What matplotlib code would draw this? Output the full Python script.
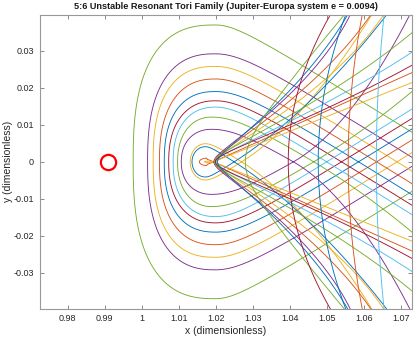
import numpy as np
import matplotlib
matplotlib.use("Agg")
import matplotlib.pyplot as plt

plt.rcParams['font.family'] = ['Liberation Sans', 'DejaVu Sans']

C = {'blue': '#0072BD', 'orange': '#D95319', 'yellow': '#EDB120', 'purple': '#7E2F8E',
     'green': '#77AC30', 'lightblue': '#4DBEEE', 'darkred': '#A2142F'}

# ---- loop members of the family (outermost -> innermost) ----
loop_colors = ['green', 'purple', 'yellow', 'orange', 'blue', 'darkred', 'lightblue',
               'green', 'purple', 'yellow', 'blue', 'orange', 'yellow']
loop_left = [0.9977, 1.0016, 1.0031, 1.0048, 1.0061, 1.0073, 1.0085, 1.0097, 1.0107,
             1.0131, 1.0136, 1.0156, 1.0170]
loop_peak_x = [1.020, 1.020, 1.020, 1.020, 1.020, 1.020, 1.020, 1.019, 1.019,
               1.0172, 1.0172, 1.0176, 1.0182]
loop_height = [0.0370, 0.0292, 0.0258, 0.0224, 0.0190, 0.0165, 0.0148, 0.0121, 0.0088,
               0.0049, 0.0041, 0.0010, 0.0002]
loop_node = [1.086, 1.075, 1.069, 1.0635, 1.0586, 1.054, 1.050, 1.0465, 1.041,
             1.027, 1.025, 1.0194, 1.0192]
loop_slope = [0.62, 0.63, 0.63, 0.63, 0.63, 0.63, 0.63, 0.63, 0.63,
              0.65, 0.65, 0.45, 0.40]
loop_bend = [0.0, 0.0, 0.0, 0.0, 0.0, 0.0, 0.0, 4.0, 21.0, 13.8, 7.7, 0.0, 0.0]
loop_shape = [2.6, 2.5, 2.5, 2.4, 2.4, 2.3, 2.3, 2.2, 2.2, 2.0, 2.0, 2.0, 2.0]

# ---- fan branches through the hyperbolic tip ----
fan_colors = ['purple', 'orange', 'yellow', 'green', 'lightblue', 'darkred', 'blue']
fan_vertex = [1.0195, 1.0198, 1.0201, 1.0197, 1.0203, 1.0199, 1.0205]
fan_a = [1.49, 1.57, 1.77, 2.05, 2.30, 2.60, 1.30]
fan_k = [-12.5, -11.1, -13.9, -12.0, -13.0, -15.0, -9.0]

# ---- outer arcs ----
arc_colors = ['green', 'darkred', 'blue', 'orange', 'lightblue']
arc_vertex = [1.028, 1.0396, 1.0477, 1.0558, 1.0634]
arc_a = [0.85, 0.0, 0.0, 0.0, 0.0]
arc_k = [0.0, 7.2, 4.7, 2.4, 1.33]

body_x = [0.9908]
body_y = [0.0]

xticks = [0.98, 0.99, 1.00, 1.01, 1.02, 1.03, 1.04, 1.05, 1.06, 1.07]
xtick_labels = ['0.98', '0.99', '1', '1.01', '1.02', '1.03', '1.04', '1.05', '1.06', '1.07']
yticks = [-0.03, -0.02, -0.01, 0.0, 0.01, 0.02, 0.03]
ytick_labels = ['-0.03', '-0.02', '-0.01', '0', '0.01', '0.02', '0.03']
xlim = (0.9724, 1.0730)
ylim = (-0.0397, 0.0397)


def loop_xy(a, xp, H, c, m, q, p, xmax=1.11):
    th = np.linspace(0, np.pi / 2, 200)
    x1 = xp - (xp - a) * np.cos(th) ** (2 / p)
    y1 = H * np.sin(th) ** (2 / p)
    d = c - xp
    r = (m * d * d - H * H / m) / (2 * H)
    x2 = np.linspace(xp, xmax, 800)[1:]
    y2 = H - m * (np.sqrt((x2 - xp) ** 2 + r ** 2) - r) - q * np.clip(x2 - c, 0, None) ** 2
    xu = np.concatenate([x1, x2])
    yu = np.concatenate([y1, y2])
    return np.concatenate([xu[::-1], xu]), np.concatenate([-yu[::-1], yu])


def branch_xy(v, a, k, r=0.0018):
    y = np.linspace(-0.05, 0.05, 800)
    x = v + a * (np.sqrt(y ** 2 + r ** 2) - r) + k * y ** 2
    return x, y


fig = plt.figure(figsize=(4.16, 3.39), dpi=100)
ax = fig.add_axes([0.095, 0.0894, 0.895, 0.8664])
lw = 0.65
for col, a, xp, H, c, m, q, p in zip(loop_colors, loop_left, loop_peak_x, loop_height,
                                     loop_node, loop_slope, loop_bend, loop_shape):
    x, y = loop_xy(a, xp, H, c, m, q, p)
    ax.plot(x, y, color=C[col], lw=lw)
for col, v, a, k in zip(fan_colors, fan_vertex, fan_a, fan_k):
    x, y = branch_xy(v, a, k)
    ax.plot(x, y, color=C[col], lw=lw)
for col, v, a, k in zip(arc_colors, arc_vertex, arc_a, arc_k):
    x, y = branch_xy(v, a, k, r=0.0094)
    ax.plot(x, y, color=C[col], lw=lw)

ax.plot(body_x, body_y, 'o', ms=11, mfc='none', mec='red', mew=1.6)

ax.set_xlim(*xlim)
ax.set_ylim(*ylim)
ax.set_xticks(xticks)
ax.set_xticklabels(xtick_labels)
ax.set_yticks(yticks)
ax.set_yticklabels(ytick_labels)
ax.tick_params(direction='in', top=True, right=True, labelsize=6.5, length=3,
               width=0.6, color='#777777', labelcolor='#262626', pad=4)
for s in ax.spines.values():
    s.set_color('#999999')
    s.set_linewidth(0.8)
ax.set_xlabel('x (dimensionless)', fontsize=7.5, color='#262626', labelpad=2)
ax.set_ylabel('y (dimensionless)', fontsize=7.5, color='#262626', labelpad=0.5)
ax.set_title('5:6 Unstable Resonant Tori Family (Jupiter-Europa system e = 0.0094)',
             fontsize=6.6, fontweight='bold', color='#1a1a1a', pad=4)
fig.savefig('out.png', dpi=100)
